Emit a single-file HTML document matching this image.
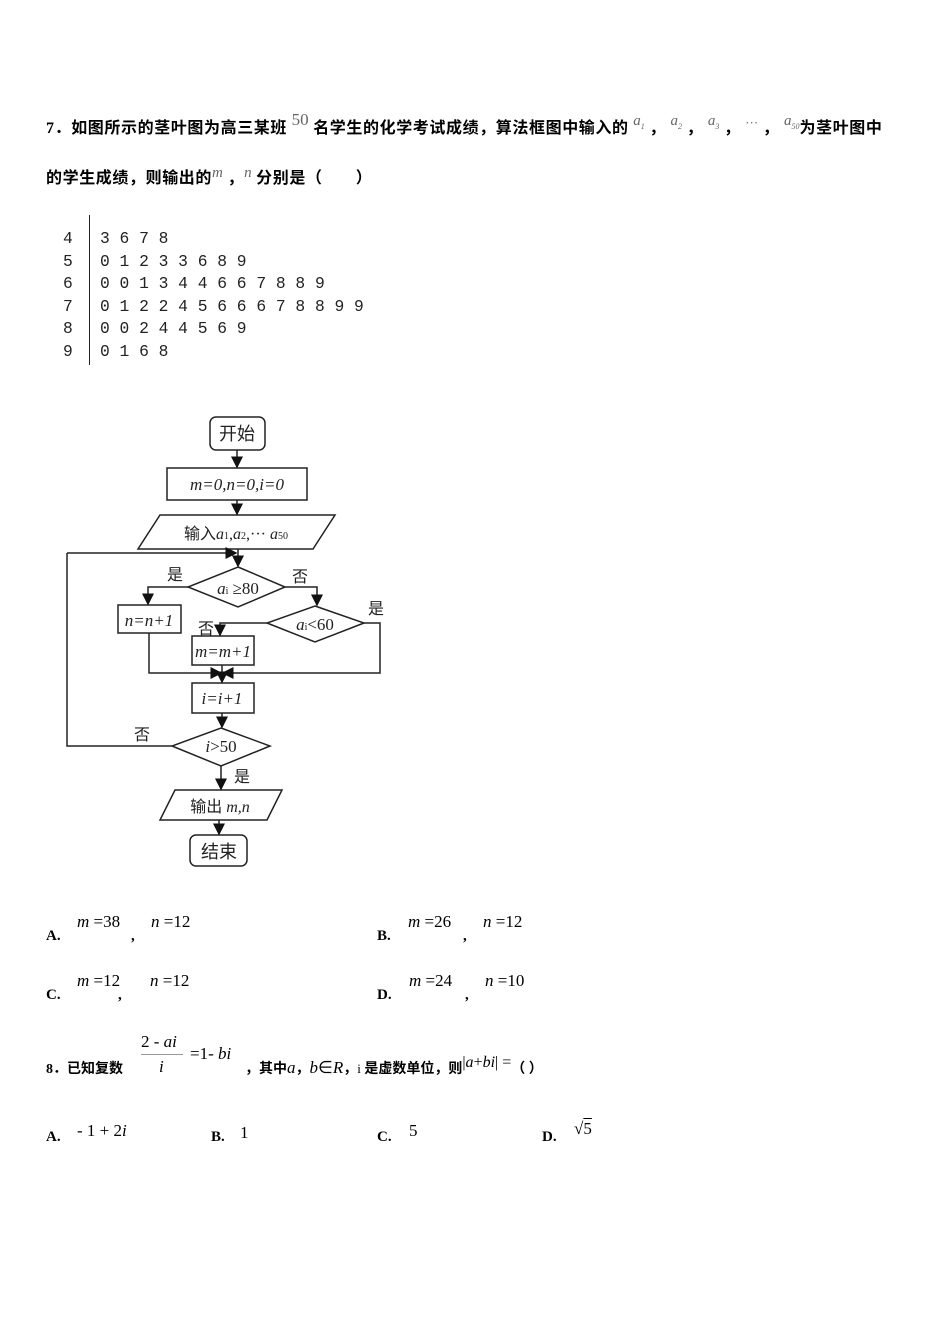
<!DOCTYPE html>
<html><head><meta charset="utf-8"><style>
body{margin:0;background:#fff;}
#p{position:relative;width:950px;height:1344px;overflow:hidden;font-family:"Liberation Serif","Noto Serif CJK SC",serif;color:#000;}
.t{position:absolute;white-space:nowrap;font-size:15px;font-weight:bold;font-family:"Liberation Serif","Noto Sans CJK SC",sans-serif;}
.q{font-size:16px;letter-spacing:0.6px;}
.m{position:absolute;white-space:nowrap;font-size:17px;font-family:"Liberation Serif",serif;letter-spacing:0;}
.i{font-style:italic;}
.g{color:#666;}
.sl{position:absolute;font-family:"Liberation Mono",monospace;font-size:16.3px;white-space:pre;color:#222;}
</style></head><body><div id="p">
<div class="t q" style="left:46px;top:114px">7．如图所示的茎叶图为高三某班 <span class="m g" style="position:relative;font-weight:normal;top:-8px">50</span> 名学生的化学考试成绩，算法框图中输入的 <span class="m g i" style="position:relative;font-weight:normal;top:-8px;font-size:15px">a<sub style="font-size:8px">1</sub></span> ， <span class="m g i" style="position:relative;font-weight:normal;top:-8px;font-size:15px">a<sub style="font-size:8px">2</sub></span> ， <span class="m g i" style="position:relative;font-weight:normal;top:-8px;font-size:15px">a<sub style="font-size:8px">3</sub></span> ， <span class="m g" style="position:relative;font-weight:normal;top:-6px;font-size:13px">···</span> ， <span class="m g i" style="position:relative;font-weight:normal;top:-8px;font-size:15px">a<sub style="font-size:8px">50</sub></span>为茎叶图中</div>
<div class="t q" style="left:46px;top:164px">的学生成绩，则输出的<span class="m g i" style="position:relative;font-weight:normal;top:-6px;font-size:15px">m</span> ，<span class="m g i" style="position:relative;font-weight:normal;top:-6px;font-size:15px">n</span> 分别是（　　）</div>

<div class="sl" style="left:63px;top:228px;line-height:22.5px">4
5
6
7
8
9</div>
<div style="position:absolute;left:89px;top:215px;width:1px;height:150px;background:#222"></div>
<div class="sl" style="left:100px;top:228px;line-height:22.5px">3 6 7 8
0 1 2 3 3 6 8 9
0 0 1 3 4 4 6 6 7 8 8 9
0 1 2 2 4 5 6 6 6 7 8 8 9 9
0 0 2 4 4 5 6 9
0 1 6 8</div>

<svg style="position:absolute;left:0;top:0" width="950" height="1344">
<defs><marker id="a" markerWidth="8" markerHeight="8" refX="7" refY="4" orient="auto"><path d="M0,0 L8,4 L0,8 Z" fill="#111"/></marker></defs>
<g stroke="#222" stroke-width="1.5" fill="#fff">
<rect x="210" y="417" width="55" height="33" rx="6"/>
<rect x="167" y="468" width="140" height="32"/>
<polygon points="160,515 335,515 313,549 138,549"/>
<polygon points="238,567 285,587 238,607 188,587"/>
<rect x="118" y="605" width="63" height="28"/>
<polygon points="315,606 364,623 315,642 267,623"/>
<rect x="192" y="636" width="62" height="29"/>
<rect x="192" y="683" width="62" height="30"/>
<polygon points="221,728 270,746 221,766 172,746"/>
<polygon points="175,790 282,790 267,820 160,820"/>
<rect x="190" y="835" width="57" height="31" rx="6"/>
</g>
<g stroke="#222" stroke-width="1.5" fill="none" marker-end="url(#a)">
<line x1="237" y1="450" x2="237" y2="467"/>
<line x1="237" y1="500" x2="237" y2="514"/>
<line x1="238" y1="549" x2="238" y2="566"/>
<polyline points="188,587 148,587 148,604"/>
<polyline points="285,587 317,587 317,605"/>
<polyline points="267,623 220,623 220,635"/>
<polyline points="67,553 67,746 172,746" marker-end="none"/>
<line x1="67" y1="553" x2="236" y2="553"/>
<polyline points="149,633 149,673 221,673"/>
<polyline points="364,623 380,623 380,673 223,673"/>
<line x1="222" y1="665" x2="222" y2="682"/>
<line x1="222" y1="713" x2="222" y2="727"/>
<line x1="221" y1="766" x2="221" y2="789"/>
<line x1="219" y1="820" x2="219" y2="834"/>
</g>
<g font-family="Liberation Serif,Noto Sans CJK SC,serif" font-size="17" fill="#222" text-anchor="middle">
<text x="237" y="440" font-family="Noto Sans CJK SC,sans-serif" font-size="18">开始</text>
<text x="237" y="490" font-style="italic">m=0,n=0,i=0</text>
<text x="236" y="539" font-size="16">输入<tspan font-style="italic">a</tspan><tspan font-size="10">1</tspan>,<tspan font-style="italic">a</tspan><tspan font-size="10">2</tspan>,··· <tspan font-style="italic">a</tspan><tspan font-size="10">50</tspan></text>
<text x="238" y="594"><tspan font-style="italic">a</tspan><tspan font-size="10">i</tspan> ≥80</text>
<text x="315" y="630"><tspan font-style="italic">a</tspan><tspan font-size="10">i</tspan>&lt;60</text>
<text x="149" y="626" font-style="italic">n=n+1</text>
<text x="223" y="657" font-style="italic">m=m+1</text>
<text x="222" y="704" font-style="italic">i=i+1</text>
<text x="221" y="752"><tspan font-style="italic">i</tspan>&gt;50</text>
<text x="220" y="812" font-size="16">输出 <tspan font-style="italic">m,n</tspan></text>
<text x="219" y="858" font-family="Noto Sans CJK SC,sans-serif" font-size="18">结束</text>
<g font-family="Noto Sans CJK SC,sans-serif" font-size="16">
<text x="175" y="580">是</text><text x="300" y="582">否</text>
<text x="376" y="614">是</text><text x="206" y="634">否</text>
<text x="142" y="740">否</text><text x="242" y="782">是</text>
</g></g>
</svg>

<div class="t" style="left:46px;top:928px">A.</div>
<div class="m" style="left:77px;top:912px"><span class="i">m</span> =38</div>
<div class="t" style="left:131px;top:928px">,</div>
<div class="m" style="left:151px;top:912px"><span class="i">n</span> =12</div>
<div class="t" style="left:377px;top:928px">B.</div>
<div class="m" style="left:408px;top:912px"><span class="i">m</span> =26</div>
<div class="t" style="left:463px;top:928px">,</div>
<div class="m" style="left:483px;top:912px"><span class="i">n</span> =12</div>
<div class="t" style="left:46px;top:987px">C.</div>
<div class="m" style="left:77px;top:971px"><span class="i">m</span> =12</div>
<div class="t" style="left:118px;top:987px">,</div>
<div class="m" style="left:150px;top:971px"><span class="i">n</span> =12</div>
<div class="t" style="left:377px;top:987px">D.</div>
<div class="m" style="left:409px;top:971px"><span class="i">m</span> =24</div>
<div class="t" style="left:465px;top:987px">,</div>
<div class="m" style="left:485px;top:971px"><span class="i">n</span> =10</div>

<div class="t" style="left:46px;top:1058px;font-size:14px">8．已知复数</div>
<div class="m" style="left:141px;top:1032px">2 - <span class="i">ai</span></div>
<div style="position:absolute;left:141px;top:1054px;width:42px;height:1px;background:#999"></div>
<div class="m i" style="left:159px;top:1057px">i</div>
<div class="m" style="left:190px;top:1044px">=1- <span class="i">bi</span></div>
<div class="t" style="left:245px;top:1058px;font-size:14px">，其中<span class="m i" style="position:relative;font-weight:normal">a</span>，<span class="m i" style="position:relative;font-weight:normal">b</span><span class="m" style="position:relative;font-weight:normal">∈<i>R</i></span>，<span style="font-weight:normal;font-size:13px">i</span> 是虚数单位，则<span class="m" style="position:relative;font-weight:normal;top:-6px;font-size:16px">|<i>a</i>+<i>bi</i>| =</span>（ ）</div>

<div class="t" style="left:46px;top:1129px">A.</div>
<div class="m" style="left:77px;top:1121px">- 1 + 2<span class="i">i</span></div>
<div class="t" style="left:211px;top:1129px">B.</div>
<div class="m" style="left:240px;top:1123px">1</div>
<div class="t" style="left:377px;top:1129px">C.</div>
<div class="m" style="left:409px;top:1121px">5</div>
<div class="t" style="left:542px;top:1129px">D.</div>
<div class="m" style="left:574px;top:1119px">√<span style="text-decoration:overline">5</span></div>
</div></body></html>
